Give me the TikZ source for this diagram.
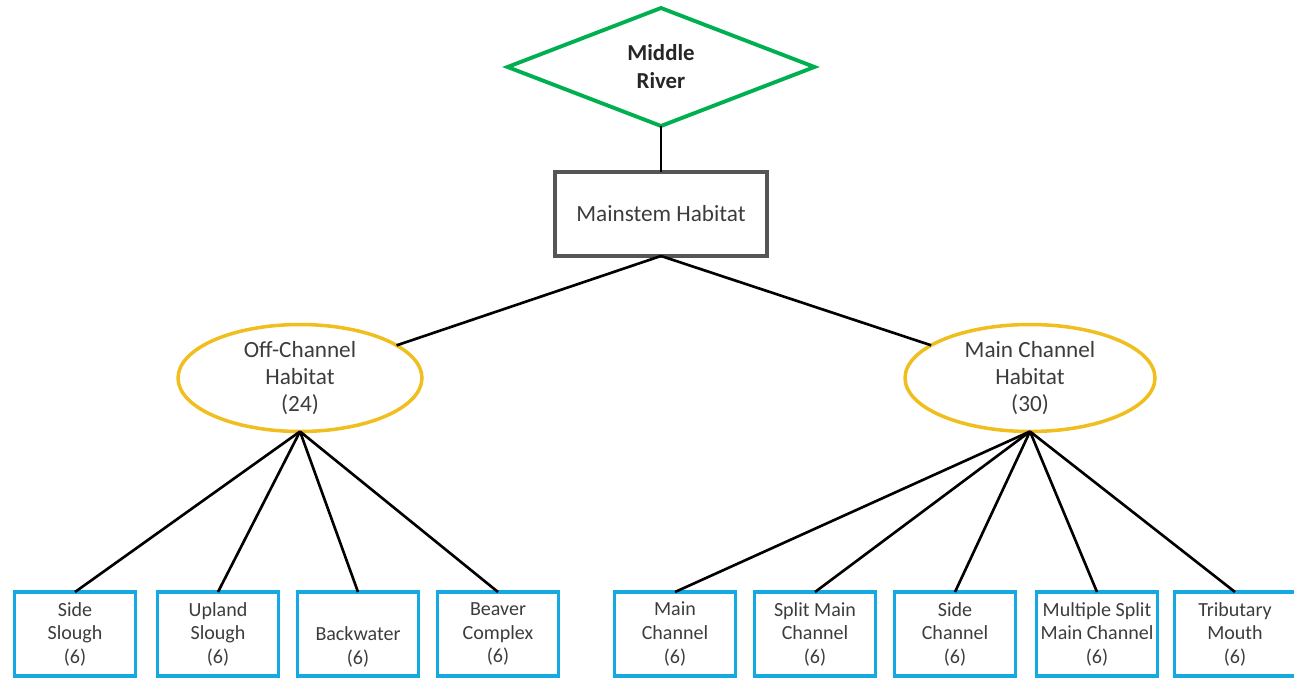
\documentclass[tikz,border=0pt]{standalone}
\usepackage{fontspec}
\setmainfont{Carlito}
\usepackage{tikz}
\usetikzlibrary{shapes.geometric}
\definecolor{vertriv}{RGB}{0,176,80}
\definecolor{orhab}{RGB}{240,190,30}
\definecolor{bleuhab}{RGB}{20,170,225}
\definecolor{grisbord}{RGB}{85,85,85}
\definecolor{gristexte}{RGB}{60,60,60}

\begin{document}
\begin{tikzpicture}[x=0.02cm,y=-0.02cm,
    riviere/.style={diamond, draw=vertriv, line width=2.2pt, inner sep=0pt, outer sep=0pt,
        minimum width=6.14cm, minimum height=2.36cm, align=center,
        font=\fontsize{13}{16}\selectfont\bfseries, text=black!85},
    tronc/.style={rectangle, draw=grisbord, line width=1.8pt, outer sep=0pt,
        minimum width=4.24cm, minimum height=1.68cm, align=center,
        font=\fontsize{13.2}{16}\selectfont, text=gristexte},
    habitat/.style={ellipse, draw=orhab, line width=2pt, inner sep=0pt, outer sep=0pt,
        minimum height=2.14cm, align=center,
        font=\fontsize{13.2}{15.5}\selectfont, text=gristexte},
    unite/.style={rectangle, draw=bleuhab, line width=2.2pt, outer sep=0pt, inner sep=0pt,
        minimum width=2.42cm, minimum height=1.68cm, align=center,
        font=\fontsize{11.4}{13.4}\selectfont, text=gristexte},
    lien/.style={line width=1.5pt, black}]
    % cadre de la page
    \useasboundingbox (0,0) rectangle (1294,678);
    % haut de l'arbre
    \node[riviere] (river) at (661,67) {Middle\\River};
    \node[tronc] (mainstem) at (661,214) {Mainstem Habitat};
    % les deux habitats
    \node[habitat, minimum width=4.88cm] (offch) at (300,378) {Off-Channel\\Habitat\\(24)};
    \node[habitat, minimum width=5cm] (mainch) at (1030,378) {Main Channel\\Habitat\\(30)};
    % unités hors chenal
    \node[unite] (sslough) at (75,634) {Side\\Slough\\(6)};
    \node[unite] (uslough) at (218,634) {Upland\\Slough\\(6)};
    \node[unite] (backw) at (358,634) {\strut\\Backwater\\(6)};
    \node[unite] (beaver) at (498,634) {Beaver\\Complex\\(6)};
    % unités chenal principal
    \node[unite] (mainc) at (675,634) {Main\\Channel\\(6)};
    \node[unite] (splitc) at (815,634) {Split Main\\Channel\\(6)};
    \node[unite] (sidec) at (955,634) {Side\\Channel\\(6)};
    \node[unite] (multic) at (1097,634) {Multiple Split\\Main Channel\\(6)};
    \node[unite] (tribm) at (1235,634) {Tributary\\Mouth\\(6)};
    % liens
    \draw[lien] (river) -- (mainstem);
    \draw[lien] (mainstem.south) -- (offch);
    \draw[lien] (mainstem.south) -- (mainch);
    \draw[lien] (offch.south) -- (sslough.north);
    \draw[lien] (offch.south) -- (uslough.north);
    \draw[lien] (offch.south) -- (backw.north);
    \draw[lien] (offch.south) -- (beaver.north);
    \draw[lien] (mainch.south) -- (mainc.north);
    \draw[lien] (mainch.south) -- (splitc.north);
    \draw[lien] (mainch.south) -- (sidec.north);
    \draw[lien] (mainch.south) -- (multic.north);
    \draw[lien] (mainch.south) -- (tribm.north);
\end{tikzpicture}
\end{document}
